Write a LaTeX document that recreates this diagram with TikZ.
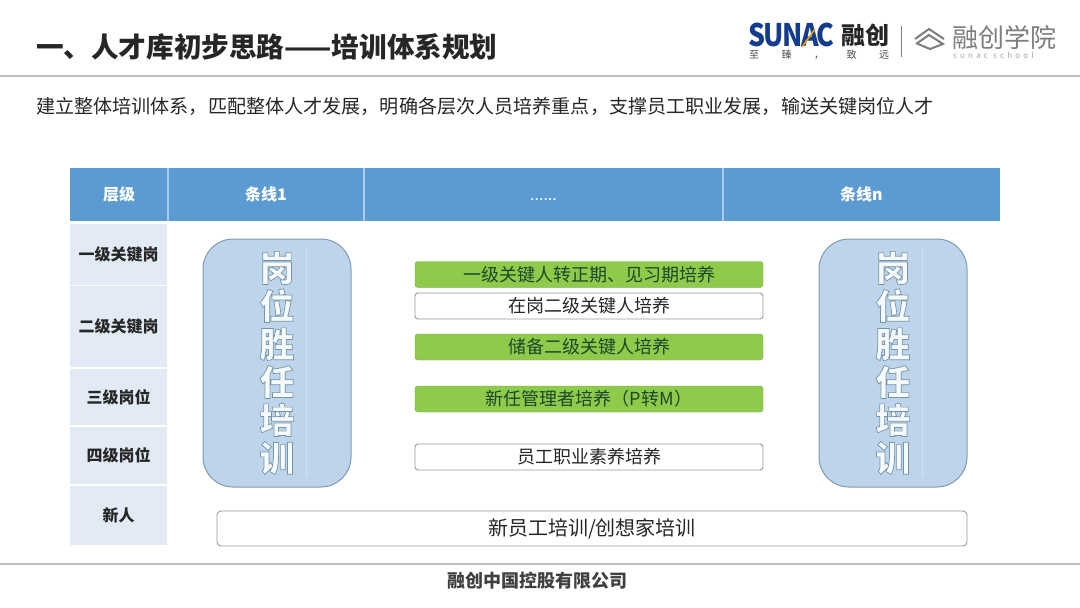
\documentclass[tikz,border=0pt]{standalone}
\usepackage{fontspec}
\usepackage{xcolor}
\setmainfont{Noto Sans CJK SC}
\usetikzlibrary{positioning,shadows}
\definecolor{headblue}{RGB}{91,155,209}
\definecolor{headgap}{RGB}{170,205,235}
\definecolor{levelblue}{RGB}{225,234,245}
\definecolor{pillblue}{RGB}{189,212,234}
\definecolor{pilledge}{RGB}{125,155,180}
\definecolor{barleaf}{RGB}{143,203,75}
\definecolor{textleaf}{RGB}{30,70,40}
\definecolor{rulegray}{RGB}{190,190,190}
\definecolor{logoblue}{RGB}{20,60,140}
\definecolor{logogray}{RGB}{125,125,125}
\newcommand{\fs}[1]{\fontsize{#1}{#1}\selectfont}
\newcommand{\outlined}[1]{\special{pdf:code q 2 Tr 0.7 w 0.45 0.58 0.65 RG}#1\special{pdf:code Q}}
\tikzset{
    headcell/.style={fill=headblue, text=white, minimum height=53pt, inner sep=0pt, font=\fs{16}\bfseries},
    levelcell/.style={fill=levelblue, minimum width=97pt, inner sep=0pt, font=\fs{16}\bfseries, text=black!85},
    pillbox/.style={draw=pilledge, line width=1pt, fill=pillblue, rounded corners=30pt, minimum width=148pt, minimum height=248pt, inner sep=0pt},
    pilltext/.style={text=white!88!pillblue, align=center, font=\fontsize{35}{38}\selectfont\bfseries, inner sep=0pt},
    greenbar/.style={draw=barleaf!80!black, fill=barleaf, rounded corners=3pt, minimum width=348pt, minimum height=26pt, inner sep=0pt, font=\fs{18}, text=textleaf},
    whitebar/.style={draw=black!40, line width=0.9pt, fill=white, rounded corners=3pt, minimum width=348pt, minimum height=26pt, inner sep=0pt, font=\fs{18}, text=black!85}
}
\begin{document}
\begin{tikzpicture}[x=1pt, y=-1pt]
    \useasboundingbox (0,0) rectangle (1080,608);
    % title and rules
    \node[anchor=west, inner sep=0pt, font=\fs{27.6}\bfseries, text=black!85] (title) at (36,47) {一、人才库初步思路——培训体系规划};
    \node[anchor=west, inner sep=0pt, font=\fs{19.1}, text=black!85] (subtitle) at (36,106) {建立整体培训体系，匹配整体人才发展，明确各层次人员培养重点，支撑员工职业发展，输送关键岗位人才};
    \draw[rulegray, line width=2pt] (0,75.5) -- (1080,75.5);
    \draw[rulegray, line width=2pt] (0,563.5) -- (1080,563.5);
    \node[inner sep=0pt, font=\fs{18}\bfseries, text=black!75] (footer) at (537,581) {融创中国控股有限公司};

    % logo
    \node[anchor=west, inner sep=0pt, font=\fs{31}\bfseries, text=logoblue] (sunac) at (748,35) {\scalebox{0.86}[1]{\addfontfeature{LetterSpace=-6}SUNAC}};
    \draw[orange!70!yellow, line width=1.5pt] (802,47) -- (815,29);
    \node[anchor=west, inner sep=0pt, font=\fs{24}\bfseries, text=black!85] (rongchuang) at (841,35) {融创};
    \node[anchor=west, inner sep=0pt, font=\fs{10}, text=black!70] (motto) at (749,55) {至\hspace{22.5pt}臻\hspace{22.5pt}，\hspace{22.5pt}致\hspace{22.5pt}远};
    \draw[logogray, line width=1pt] (901,26) -- (901,57);
    \draw[logogray, line width=2pt] (915,39) -- (929,29) -- (944,39) (916,44) -- (929,35) -- (943,44) -- (930,49) -- (918,44);
    \node[anchor=west, inner sep=0pt, font=\fs{26}, text=logogray] (academy) at (952,38) {融创学院};
    \node[anchor=west, inner sep=0pt, font=\fs{8}, text=black!35] (school) at (953,55) {\addfontfeature{LetterSpace=40}sunac school};

    % header row
    \node[headcell, minimum width=98pt] (headlevel) at (119,194.5) {层级};
    \node[headcell, minimum width=196pt] (headone) at (266,194.5) {条线1};
    \node[headcell, minimum width=359pt] (headdots) at (543.5,194.5) {\mdseries\vphantom{层}......};
    \node[headcell, minimum width=277pt] (headn) at (861.5,194.5) {条线n};
    \foreach \cell in {headlevel, headone, headdots} {
        \draw[headgap, line width=1.5pt] (\cell.north east) -- (\cell.south east);
    }

    % left column
    \node[levelcell, minimum height=61pt] (levelone) at (118.5,254.5) {一级关键岗};
    \node[levelcell, minimum height=81pt] (leveltwo) at (118.5,326.5) {二级关键岗};
    \node[levelcell, minimum height=56pt] (levelthree) at (118.5,397) {三级岗位};
    \node[levelcell, minimum height=57pt] (levelfour) at (118.5,455.5) {四级岗位};
    \node[levelcell, minimum height=59pt] (levelnew) at (118.5,515.5) {新人};

    % side boxes
    \foreach \name/\px in {pillone/277, pilln/893} {
        \node[pillbox] (\name) at (\px,363) {};
        \draw[white!35!pillblue, line width=0.5pt] ([xshift=29pt,yshift=-11pt]\name.north) -- ([xshift=29pt,yshift=11pt]\name.south);
        \node[pilltext] (\name text) at (\px,363) {\outlined{岗\\位\\胜\\任\\培\\训}};
    }

    % middle bars
    \node[greenbar] (barone) at (589,274.5) {一级关键人转正期、见习期培养};
    \node[whitebar] (bartwo) at (589,306) {在岗二级关键人培养};
    \node[greenbar] (barthree) at (589,347) {储备二级关键人培养};
    \node[greenbar] (barfour) at (589,399) {新任管理者培养（P转M）};
    \node[whitebar] (barfive) at (589,457) {员工职业素养培养};
    \node[draw=black!40, line width=0.9pt, fill=white, rounded corners=4pt, minimum width=750pt, minimum height=35pt, inner sep=0pt, font=\fs{20}, text=black!85] (barnew) at (592,528.5) {新员工培训/创想家培训};
\end{tikzpicture}
\end{document}
